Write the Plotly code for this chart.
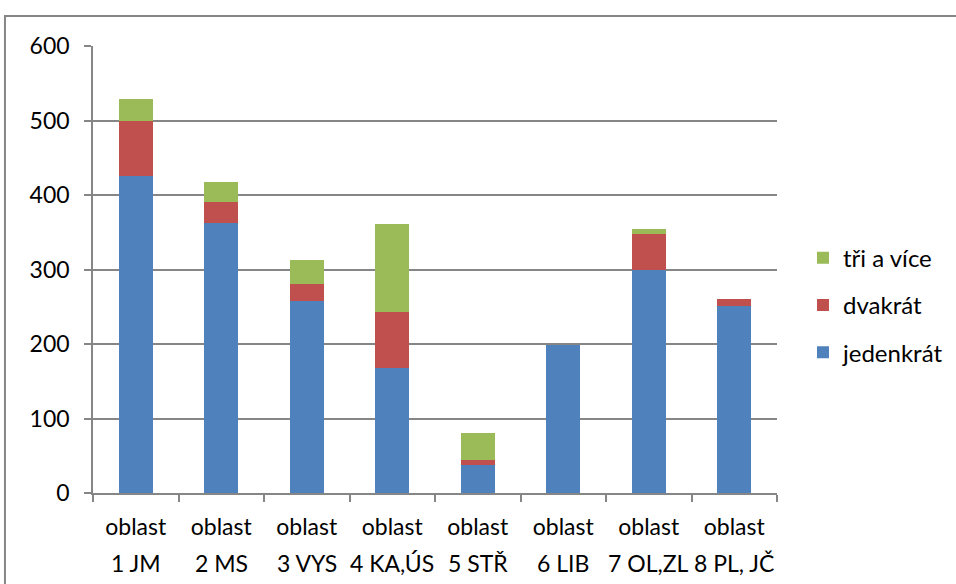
import plotly.graph_objects as go

region_codes = ["1 JM", "2 MS", "3 VYS", "4 KA,ÚS", "5 STŘ", "6 LIB", "7 OL,ZL", "8 PL, JČ"]
tick_word = "oblast"
jedenkrat = [426, 362, 258, 168, 38, 198, 299, 251]
dvakrat = [74, 29, 23, 75, 6, 0, 49, 10]
tri_a_vice = [29, 27, 32, 118, 36, 0, 6, 0]
y_ticks = [0, 100, 200, 300, 400, 500, 600]

FONT = "Lato, Carlito, Calibri, sans-serif"
GRID = "#868686"

fig = go.Figure()
series = [("jedenkrát", jedenkrat, "#4F81BD", 3),
          ("dvakrát", dvakrat, "#C0504D", 2),
          ("tři a více", tri_a_vice, "#9BBB59", 1)]
for i, (name, vals, col, rank) in enumerate(series):
    fig.add_trace(go.Bar(x=region_codes, y=[v if v else None for v in vals], name=name,
                         marker_color=col, marker_line_width=0,
                         legendgroup=f"g{i}", legendrank=rank))

annotations = [dict(text=code, x=code, xref="x", y=-70 / 447, yref="paper",
                    yanchor="middle", xanchor="center", showarrow=False,
                    font=dict(size=23)) for code in region_codes]

fig.update_layout(
    barmode="stack",
    bargap=0.6,
    width=956, height=584,
    margin=dict(l=93, r=179, t=46, b=91, autoexpand=False),
    paper_bgcolor="white", plot_bgcolor="white",
    font=dict(family=FONT, size=23, color="black"),
    legend=dict(traceorder="grouped", x=1.038, xanchor="left", y=0.42, yanchor="middle",
                font=dict(size=24), tracegroupgap=13, itemwidth=30),
    xaxis=dict(showline=True, linecolor=GRID, linewidth=1.5, ticks="outside",
               tickson="boundaries", ticklen=7, tickcolor=GRID, tickwidth=1.5,
               tickmode="array", tickvals=region_codes, ticktext=[tick_word] * len(region_codes),
               showgrid=False, tickfont=dict(size=23), tickangle=0, automargin=False,
               ticklabelstandoff=13),
    yaxis=dict(range=[0, 600], tickvals=y_ticks, showline=True, linecolor=GRID, linewidth=1.5,
               ticks="outside", ticklen=7, tickcolor=GRID, tickwidth=1.5, automargin=False,
               showgrid=True, gridcolor=GRID, gridwidth=1.5, zeroline=False,
               ticklabelstandoff=10),
    annotations=annotations,
    shapes=[dict(type="rect", xref="paper", yref="paper",
                 x0=-0.1287, x1=1.27, y0=-0.22, y1=1.0671,
                 line=dict(color=GRID, width=2), fillcolor="rgba(0,0,0,0)", layer="below")],
)

fig.write_html("out.html", config={"displayModeBar": False},
               post_script="document.body.style.margin='0px';")
